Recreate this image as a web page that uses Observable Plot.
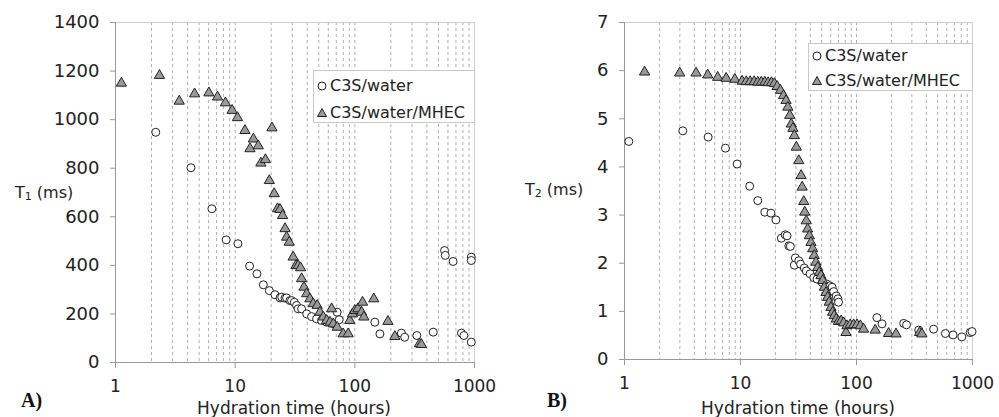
<!DOCTYPE html>
<html><head><meta charset="utf-8">
<script src="https://cdn.jsdelivr.net/npm/d3@7"></script>
<script src="https://cdn.jsdelivr.net/npm/@observablehq/plot@0.6"></script>
<style>
body{margin:0;background:#fff;font-family:"DejaVu Sans",sans-serif;}
#wrap{position:relative;width:999px;height:417px;overflow:hidden;background:#fff;}
.panel{position:absolute;top:0;}
.lbl{position:absolute;font-size:17px;line-height:16px;color:#222;white-space:nowrap;}
.ylbl{position:absolute;font-size:16px;color:#222;white-space:nowrap;}
.ylbl sub{font-size:11px;vertical-align:-2px;}
.tag{position:absolute;font-family:"Liberation Serif",serif;font-weight:bold;font-size:20px;line-height:20px;color:#111;}
.legend{position:absolute;background:#fff;border:1px solid #c8c8c8;font-size:16px;color:#222;box-sizing:border-box;}
.legend .row{position:absolute;left:0;white-space:nowrap;}
.legend svg{position:absolute;}
</style></head>
<body><div id="wrap"></div>
<script>
// ---- data ----
const xTicks = [1, 10, 100, 1000];
const gridHours = [2,3,4,5,6,7,8,9,10,20,30,40,50,60,70,80,90,100,200,300,400,500,600,700,800,900];
const t1Ticks = [0, 200, 400, 600, 800, 1000, 1200, 1400];
const t2Ticks = [0, 1, 2, 3, 4, 5, 6, 7];
const seriesNames = ["C3S/water", "C3S/water/MHEC"];

const t1WaterHours = [2.17,4.27,6.39,8.41,10.55,13.2,15.2,17.2,19.3,21.5,23.7,24.5,26.1,26.9,28.7,29.6,31.2,32.6,33.6,35.9,39.6,43.5,47.9,52.7,58.1,66.1,71.2,74,147,162,245,261,330,452,562,570,662,778,815,940,940,940];
const t1WaterMs = [948,802,633,505,489,397,365,320,296,279,266,269,265,266,255,255,248,235,221,221,200,189,180,173,166,159,207,176,166,118,121,104,111,125,461,441,416,121,111,434,420,84];

const t1MhecHours = [1.12,2.33,3.41,4.58,6.03,7.12,8.29,9.43,10.45,12.07,13.3,14.2,15.6,16.4,17.9,20.3,19.3,21.2,22.6,23.7,24.9,26.1,26.9,28.3,30.5,32.2,33.6,35.2,35.9,37.6,39.6,42.1,44.9,48.4,51.1,54.5,58.1,62,64,66.1,71.2,79.9,87.9,90.7,95.5,99.9,106,114,116,119,144,189,216,347,360];
const t1MhecMs = [1150,1182,1076,1106,1110,1093,1069,1038,1008,955,880,920,892,821,835,966,749,695,633,630,605,551,516,495,434,399,399,390,345,310,283,262,242,235,207,187,173,166,221,159,145,118,118,173,200,214,221,207,248,187,262,169,107,77,74];

const t2WaterHours = [1.09,3.18,5.26,7.42,9.35,12.0,14.1,16.2,18.3,20.2,22.5,24.3,25.2,26.1,26.9,29.1,29.7,31.8,32.9,35.5,36.9,39.8,42.8,45.7,50.6,55.0,58.7,61.6,63.6,66.9,69.2,70.0,150,166,255,270,344,462,584,680,809,956,991];
const t2WaterMs = [4.53,4.75,4.62,4.39,4.06,3.60,3.30,3.06,3.04,2.90,2.52,2.59,2.57,2.36,2.35,1.96,2.11,2.05,1.98,1.90,1.84,1.78,1.70,1.67,1.60,1.57,1.53,1.50,1.41,1.32,1.26,1.19,0.87,0.74,0.75,0.72,0.61,0.63,0.54,0.51,0.47,0.56,0.58];

const t2MhecHours = [1.49,2.99,4.14,5.22,6.36,7.52,8.93,10.33,11.2,12.1,13.1,14.1,15.1,16.2,17.3,18.5,19.6,20.7,22.1,23.5,24.7,25.6,26.6,27.4,28.3,29.1,30.3,31.8,33.3,34.0,35.1,35.8,36.9,37.9,39.2,40.5,41.9,43.2,44.7,46.3,47.9,49.4,51.1,52.8,54.6,56.4,58.2,60.2,62.2,64.3,66.9,69.9,73.7,77.4,81.2,82.7,88.3,94.4,101,108,115,145,189,219,350,366];
const t2MhecMs = [5.97,5.95,5.95,5.91,5.86,5.84,5.82,5.78,5.77,5.77,5.77,5.76,5.76,5.76,5.75,5.75,5.73,5.67,5.59,5.48,5.38,5.24,5.07,4.89,4.80,4.65,4.41,4.13,3.82,3.58,3.28,3.06,2.88,2.71,2.57,2.43,2.30,2.16,2.02,1.91,1.81,1.74,1.64,1.50,1.39,1.29,1.19,1.08,0.98,0.91,0.84,0.79,0.80,0.76,0.56,0.70,0.72,0.72,0.72,0.70,0.63,0.61,0.54,0.53,0.56,0.53];

// ---- styles ----
const waterStyle = {r: 4, fill: "white", stroke: "#222", strokeWidth: 1};
const mhecStyle = {r: 3.8, symbol: "triangle", fill: "#999", stroke: "#222", strokeWidth: 1};

function panel({width, marginLeft, marginRight, marginBottom, yDomain, yTicks, waterX, waterY, mhecX, mhecY}) {
  return Plot.plot({
    width, height: 417, marginLeft, marginRight, marginTop: 22, marginBottom,
    style: {fontFamily: "DejaVu Sans, sans-serif", fontSize: "18px", color: "#222", background: "transparent", overflow: "visible"},
    x: {type: "log", domain: [1, 1000], axis: null},
    y: {domain: yDomain, axis: null},
    marks: [
      Plot.ruleX(gridHours, {stroke: "#b0b0b0", strokeDasharray: "3,3", strokeWidth: 1}),
      Plot.frame({stroke: "#d0d0d0"}),
      Plot.ruleX([1], {stroke: "#999"}),
      Plot.ruleY([yDomain[0]], {stroke: "#999"}),
      Plot.axisX({ticks: xTicks, tickFormat: d => String(d), tickSize: 6, tickPadding: 11, stroke: "#999", fill: "#222", fontSize: 17, label: null}),
      Plot.axisY({ticks: yTicks, tickFormat: d => String(d), tickSize: 5, tickPadding: 11, stroke: "#999", fill: "#222", fontSize: 18, label: null}),
      Plot.dot(waterX, {x: waterX, y: waterY, ...waterStyle}),
      Plot.dot(mhecX, {x: mhecX, y: mhecY, ...mhecStyle})
    ]
  });
}

const wrap = document.getElementById("wrap");

const left = panel({width: 490, marginLeft: 115, marginRight: 16, marginBottom: 55,
  yDomain: [0, 1400], yTicks: t1Ticks, waterX: t1WaterHours, waterY: t1WaterMs, mhecX: t1MhecHours, mhecY: t1MhecMs});
left.classList.add("panel"); left.style.left = "0px";
wrap.appendChild(left);

const right = panel({width: 499, marginLeft: 124, marginRight: 27, marginBottom: 58,
  yDomain: [0, 7], yTicks: t2Ticks, waterX: t2WaterHours, waterY: t2WaterMs, mhecX: t2MhecHours, mhecY: t2MhecMs});
right.classList.add("panel"); right.style.left = "500px";
wrap.appendChild(right);

function addHTML(html) { const d = document.createElement("div"); d.innerHTML = html; const el = d.firstElementChild; wrap.appendChild(el); return el; }

// axis titles
addHTML(`<div class="lbl" style="left:294px;top:400px;transform:translateX(-50%)">Hydration time (hours)</div>`);
addHTML(`<div class="lbl" style="left:798px;top:400px;transform:translateX(-50%)">Hydration time (hours)</div>`);
addHTML(`<div class="ylbl" style="left:15px;top:183px">T<sub>1</sub> (ms)</div>`);
addHTML(`<div class="ylbl" style="left:525px;top:180px">T<sub>2</sub> (ms)</div>`);
addHTML(`<div class="tag" style="left:21px;top:390px">A)</div>`);
addHTML(`<div class="tag" style="left:547px;top:390px">B)</div>`);

// legends
function legend(x, y, w, h, rowGap, firstRow) {
  const rows = seriesNames.map((name, i) => {
    const cy = firstRow + i * rowGap;
    const sym = i === 0
      ? `<svg width="12" height="12" style="left:2px;top:${cy - 6}px"><circle cx="6" cy="6" r="4" fill="white" stroke="#222"/></svg>`
      : `<svg width="12" height="12" style="left:2px;top:${cy - 6}px"><path d="M6,1.5L10.5,9.5L1.5,9.5Z" fill="#999" stroke="#222"/></svg>`;
    return sym + `<div class="row" style="left:16px;top:${cy - 10}px">${name}</div>`;
  }).join("");
  addHTML(`<div class="legend" style="left:${x}px;top:${y}px;width:${w}px;height:${h}px">${rows}</div>`);
}
legend(313, 70, 162, 53, 27, 15);
legend(808, 43, 165, 48, 25, 12);
</script>
</body></html>
